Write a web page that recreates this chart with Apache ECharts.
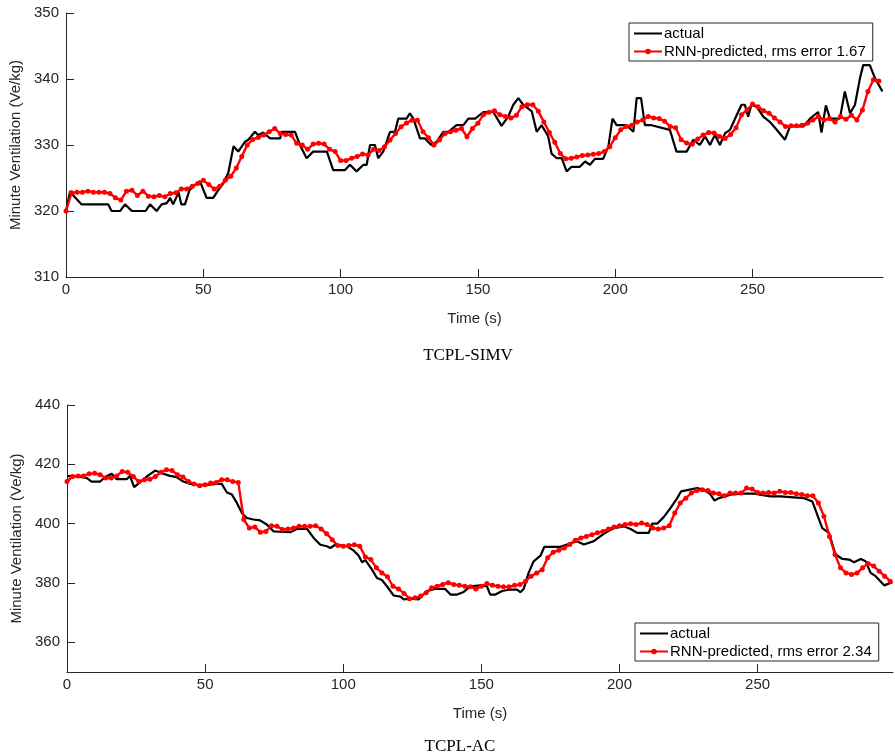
<!DOCTYPE html>
<html>
<head>
<meta charset="utf-8">
<script src="https://cdn.jsdelivr.net/npm/echarts@6/dist/echarts.min.js"></script>
<style>
  html, body { margin: 0; padding: 0; background: #fff; }
  #chart { width: 895px; height: 754px; }
</style>
</head>
<body>
<div id="chart"></div>
<script>
// TCPL-SIMV (top panel)
const simvActT = [0, 1.5, 3, 5.7, 15.4, 16.6, 19.7, 21.5, 24, 29, 30.6, 33, 34.8, 36.7, 37.9, 39, 41, 42, 43.3, 45, 47.6, 48.8, 51.2, 53.6, 55.5, 57.3, 59.1, 61, 62.7, 65.2, 66.4, 68.8, 70, 71.8, 74.3, 78, 78.5, 83.4, 85.2, 87.6, 90, 95, 97.3, 101.6, 103.4, 105.8, 108.3, 109.5, 110.7, 112.5, 113.7, 115.5, 118, 119.8, 121, 124, 125.2, 126.5, 128.9, 130.7, 133, 135, 137.4, 139.2, 142.2, 144.7, 146.5, 149, 152, 155.6, 158.6, 161, 162.9, 164.7, 166.5, 169.6, 171.4, 173.2, 175.6, 176.8, 178.7, 180.5, 182.3, 184.1, 187.1, 189, 190.8, 192.6, 195.6, 197.5, 199, 200.5, 204.1, 206.6, 207.8, 209.4, 210.8, 213.2, 219.9, 222.3, 226, 228.4, 230.8, 232.7, 234.5, 236.3, 238.1, 240, 241.8, 244.2, 246, 247.2, 248.4, 249.6, 251.5, 253.9, 256.3, 258.8, 261.8, 263.6, 268.5, 270.9, 273.9, 275.1, 276.7, 278.2, 281.8, 283.6, 285.5, 287.3, 289.1, 290.3, 292.7, 294.6, 297.3];
const simvActV = [320, 323, 322.2, 321, 321, 320, 320, 321, 320, 320, 321, 320, 321, 321.2, 322, 321, 322.8, 321, 321, 323.2, 324.2, 324.5, 322, 322, 323.2, 324.2, 325.8, 329.8, 329, 330.5, 330.8, 332, 331.5, 331.9, 331, 331, 332, 332, 330, 328, 329, 329, 326.2, 326.2, 327, 326, 327, 327, 330, 330, 328, 329, 332, 332, 334, 334, 334.8, 334, 331, 331, 330, 330.5, 332, 332, 333, 333, 334, 334, 335, 335, 332.9, 334.3, 336.1, 337.1, 336.1, 335.1, 332, 333, 331.3, 328.7, 328, 328, 326, 326.7, 326.7, 327.5, 327, 327.9, 327.9, 329.8, 334, 333, 333, 332, 337.1, 337.1, 333, 333, 332.3, 329, 329, 330.8, 330, 331.3, 330, 331.5, 330, 331.8, 332.3, 334.5, 336.1, 336.1, 334.3, 336.1, 335.8, 334.3, 333.5, 332.3, 330.8, 332.8, 332.8, 334, 335, 331.9, 336, 334, 334, 338.1, 334.8, 336.1, 340.1, 342.1, 342.1, 340.1, 338.1];
// predicted, one value every 2 s from t = 0
const simvPred = [320, 322.75, 322.85, 322.85, 323, 322.85, 322.85, 322.85, 322.65, 322, 321.65, 323, 323.15, 322.35, 323, 322.25, 322.15, 322.35, 322.15, 322.65, 322.75, 323.35, 323.35, 323.75, 324.15, 324.65, 324, 323.35, 323.75, 324.65, 325.25, 326.5, 328.25, 330, 330.85, 331.15, 331.5, 332, 332.5, 331.75, 331.6, 331.5, 330.25, 330, 329.35, 330.15, 330.25, 330.15, 329.35, 329, 327.65, 327.65, 328, 328.25, 328.65, 328.5, 329.35, 329.15, 329.75, 330.75, 331.75, 332.75, 333.35, 333.75, 333.75, 332, 331.1, 330, 330.75, 331.75, 332, 332.25, 332.5, 331.25, 332.5, 333.3, 334.6, 334.95, 335.2, 334.6, 334.3, 334.1, 334.5, 335.8, 336.1, 336.1, 335.1, 333.5, 331.9, 330.4, 328.7, 327.9, 328, 328.2, 328.4, 328.5, 328.6, 328.7, 329, 329.75, 331.1, 332.3, 332.8, 333, 333.5, 333.8, 334.3, 334.1, 334, 333.6, 332.8, 332.6, 330.8, 330.3, 330.1, 330.9, 331.5, 331.9, 331.8, 331.3, 331, 331.6, 332.6, 334.6, 335.3, 336.2, 335.8, 335.2, 334.8, 334.1, 333.5, 332.8, 332.9, 332.9, 333, 333.3, 333.8, 334.3, 333.8, 334, 333.5, 334.3, 333.9, 334.5, 333.8, 335.3, 338.1, 339.9, 339.7];

// TCPL-AC (bottom panel)
const acActT = [0, 2.3, 7.1, 8.9, 12, 13.8, 16.2, 18, 21.6, 22.8, 24.3, 26.4, 28.9, 31.9, 34.3, 37.3, 39.7, 42.1, 44.6, 47, 50.6, 54.2, 56, 57.9, 59.7, 61.5, 63.3, 65.1, 67.5, 69.9, 72.3, 74.8, 80.8, 83.2, 86.9, 89.3, 91.7, 94.1, 95.3, 97.1, 101.3, 103.7, 105.6, 106.8, 108, 110.4, 112.2, 114, 115.8, 118.2, 120.7, 121.9, 124.3, 127.3, 130.3, 133.3, 136.9, 138.8, 141.2, 143.6, 146, 149.6, 152, 153.2, 155.1, 157.5, 160.5, 162.9, 164.1, 165.3, 167.1, 168.9, 171.4, 172.8, 178.6, 181, 184.6, 187.1, 190.7, 194.3, 197.9, 201.6, 204, 206.4, 210.6, 211.8, 213.6, 216, 218.5, 220.9, 222.3, 228.1, 230.5, 232.7, 234.4, 236, 240.2, 243.8, 248.7, 254.7, 258.3, 266.8, 269.8, 271.6, 273.4, 275.8, 278.2, 280.7, 283.1, 284.9, 287.3, 289.1, 290.9, 292.7, 295.8, 298.8];
const acActV = [416, 416.1, 415.4, 414.2, 414.2, 415.7, 416.8, 415, 415, 416.1, 412.3, 413.9, 415.9, 417.9, 417, 416.1, 415.7, 414.2, 413.4, 413.1, 413.1, 413.4, 413.4, 410.5, 409.8, 407, 403.6, 401.9, 401.4, 401.1, 399.7, 397.4, 397.1, 398.2, 398.2, 395.2, 392.9, 392.4, 391.8, 392.9, 392.4, 391, 389.2, 387, 387.7, 384.5, 381.7, 381, 378.9, 375.8, 375.4, 374.5, 374.7, 374.5, 377.3, 378, 378, 376.1, 376.1, 377, 378.9, 379.2, 378.9, 376.1, 376.1, 377.3, 377.8, 377.8, 376.9, 378, 383.4, 387.3, 389.2, 392.2, 392.2, 393, 394.1, 393, 394.1, 396.6, 398.5, 399.1, 398.2, 396.9, 396.9, 400, 400, 402.2, 405.3, 408.6, 410.9, 412, 411.4, 410.1, 407.8, 408.6, 409.8, 410.1, 410.1, 409.2, 409.2, 408.6, 407.5, 403, 398.5, 396.9, 389.6, 388.1, 387.9, 387, 388.1, 387.3, 383.4, 382.3, 379.2, 380.3];
const acPred = [414.2, 415.9, 416.1, 416.1, 416.8, 417, 416.5, 415.4, 415.4, 416.1, 417.6, 417.3, 415.9, 414.2, 414.8, 415, 415.9, 417.3, 418.2, 417.9, 416.5, 415.7, 414.2, 413.4, 412.8, 413.1, 413.7, 413.9, 414.8, 414.8, 414.2, 413.9, 401.4, 398.5, 398.9, 397.1, 397.4, 399.3, 399.1, 398, 398.2, 398.5, 399.1, 399.1, 399.1, 399.3, 398.2, 396.6, 394.6, 392.6, 392.4, 392.6, 392.9, 392.4, 388.8, 387.9, 385.1, 383.4, 382.1, 378.9, 378, 376.5, 374.7, 375, 375.6, 376.7, 378.4, 378.9, 379.5, 380.1, 379.5, 379.2, 378.9, 378.7, 378, 378.9, 379.8, 379.2, 378.9, 378.7, 378.7, 379.2, 379.5, 380.6, 382.3, 383.4, 384.5, 388.5, 390.4, 391, 391.8, 393, 394.4, 395.2, 395.7, 396.3, 396.9, 397.4, 398.2, 398.9, 399.3, 399.7, 400, 399.7, 400.2, 399.7, 398.5, 398.2, 398.5, 399.3, 403.6, 407, 408.6, 410.3, 411.2, 411.4, 411.2, 410.3, 410.1, 409.4, 410.3, 410.3, 410.3, 412, 411.7, 410.5, 410.3, 410.5, 410.3, 410.9, 410.5, 410.5, 410.1, 409.8, 409.4, 409.4, 407, 402.5, 395.7, 389.6, 385.1, 383.4, 382.9, 383.4, 385.1, 386.6, 385.7, 384, 382.3, 380.6];

const xTicks = [0, 50, 100, 150, 200, 250];
const simvYTicks = [310, 320, 330, 340, 350];
const acYTicks = [360, 380, 400, 420, 440];

const simvName = 'RNN-predicted, rms error 1.67';
const acName = 'RNN-predicted, rms error 2.34';

const zip = (t, v) => t.map((x, i) => [x, v[i]]);
const every2s = v => v.map((y, i) => [i * 2, y]);

const axisCol = '#262626';
const font = 'Liberation Sans, Arial, sans-serif';

function xAxis(grid, max) {
  return {
    type: 'value', gridIndex: grid, min: 0, max: max,
    name: 'Time (s)', nameLocation: 'middle', nameGap: 34,
    nameTextStyle: { color: axisCol, fontSize: 15, fontFamily: font },
    axisLine: { lineStyle: { color: axisCol, width: 1 } },
    axisTick: { inside: true, length: 8, customValues: xTicks, lineStyle: { color: axisCol } },
    axisLabel: { customValues: xTicks, color: axisCol, fontSize: 15, fontFamily: font, margin: 5 },
    splitLine: { show: false }
  };
}
function yAxis(grid, min, max, ticks) {
  return {
    type: 'value', gridIndex: grid, min: min, max: max,
    name: 'Minute Ventilation (Ve/kg)', nameLocation: 'middle', nameGap: 38,
    nameTextStyle: { color: axisCol, fontSize: 15, fontFamily: font },
    axisLine: { show: true, lineStyle: { color: axisCol, width: 1 } },
    axisTick: { show: true, inside: true, length: 8, customValues: ticks, lineStyle: { color: axisCol } },
    axisLabel: { customValues: ticks, color: axisCol, fontSize: 15, fontFamily: font, margin: 7 },
    splitLine: { show: false }
  };
}
function actual(grid, data) {
  return {
    name: 'actual', type: 'line', xAxisIndex: grid, yAxisIndex: grid,
    data: data, showSymbol: false, symbol: 'none',
    lineStyle: { color: '#000', width: 2.2 }, itemStyle: { color: '#000' }, z: 2
  };
}
function predicted(grid, name, data) {
  return {
    name: name, type: 'line', xAxisIndex: grid, yAxisIndex: grid,
    data: data, symbol: 'circle', symbolSize: 5, showSymbol: true,
    lineStyle: { color: '#ff0000', width: 2.4 }, itemStyle: { color: '#ff0000' }, z: 3
  };
}
function legend(name, pos) {
  return Object.assign({
    orient: 'vertical',
    data: [{ name: 'actual', itemStyle: { opacity: 0 } }, name],
    itemWidth: 28, itemHeight: 7, itemGap: 3, padding: [3, 7, 2, 4],
    borderColor: axisCol, borderWidth: 1, backgroundColor: '#fff',
    textStyle: { color: '#000', fontSize: 15, fontFamily: font, padding: [0, 0, 0, -3] }
  }, pos);
}

const chart = echarts.init(document.getElementById('chart'), null, { renderer: 'canvas' });
chart.setOption({
  animation: false,
  backgroundColor: '#fff',
  title: [
    { text: 'TCPL-SIMV', left: 463, top: 342, textAlign: 'center',
      textStyle: { fontFamily: 'Liberation Serif, Times New Roman, serif', fontWeight: 'normal', fontSize: 17, color: '#000' } },
    { text: 'TCPL-AC', left: 455, top: 733, textAlign: 'center',
      textStyle: { fontFamily: 'Liberation Serif, Times New Roman, serif', fontWeight: 'normal', fontSize: 17, color: '#000' } }
  ],
  grid: [
    { left: 66, top: 13, width: 817, height: 264 },
    { left: 67, top: 405, width: 826, height: 267 }
  ],
  xAxis: [xAxis(0, 297.5), xAxis(1, 299)],
  yAxis: [yAxis(0, 310, 350, simvYTicks), yAxis(1, 350, 440, acYTicks)],
  legend: [
    legend(simvName, { left: 629, top: 23 }),
    legend(acName, { left: 635, top: 623 })
  ],
  series: [
    actual(0, zip(simvActT, simvActV)),
    predicted(0, simvName, every2s(simvPred)),
    actual(1, zip(acActT, acActV)),
    predicted(1, acName, every2s(acPred))
  ]
});
</script>
</body>
</html>
